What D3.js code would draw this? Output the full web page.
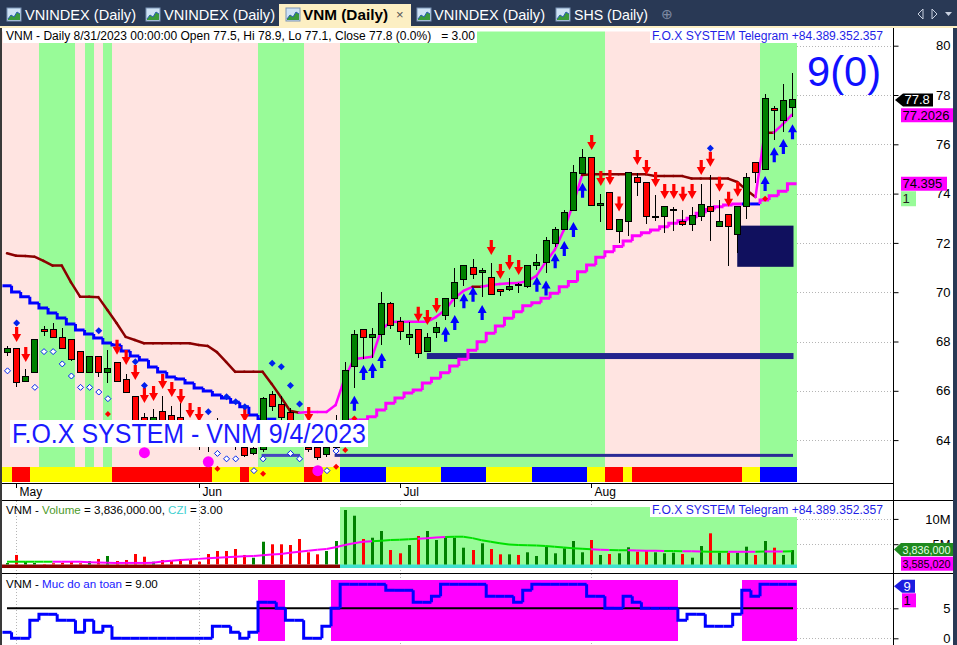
<!DOCTYPE html>
<html>
<head>
<meta charset="utf-8">
<script src="https://cdn.jsdelivr.net/npm/d3@7"></script>
<style>
body { margin: 0; background: #fff; overflow: hidden; }
text { font-family: "Liberation Sans", Arial, sans-serif; white-space: pre; }
</style>
</head>
<body>
<div id="chart"></div>
<script>
const W = 957, H = 645;

// ---- data ----
const dates = ("04-28 05-04 05-05 05-08 05-09 05-10 05-11 05-12 05-15 05-16 05-17 05-18 05-19 05-22 05-23 05-24 05-25 05-26 05-29 05-30 05-31 " +
  "06-01 06-02 06-05 06-06 06-07 06-08 06-09 06-12 06-13 06-14 06-15 06-16 06-19 06-20 06-21 06-22 06-23 06-26 06-27 06-28 06-29 06-30 " +
  "07-03 07-04 07-05 07-06 07-07 07-10 07-11 07-12 07-13 07-14 07-17 07-18 07-19 07-20 07-21 07-24 07-25 07-26 07-27 07-28 07-31 " +
  "08-01 08-02 08-03 08-04 08-07 08-08 08-09 08-10 08-11 08-14 08-15 08-16 08-17 08-18 08-21 08-22 08-23 08-24 08-25 08-28 08-29 08-30 08-31")
  .split(" ").map(d => "2023-" + d);

const open = [67.55,67.7,66.36,66.76,68.5,68.5,68.18,68.1,67.6,66.76, 67.41,66.76,67.13,66.44,65.76,64.9,64.5,65.15,65.0,64.9,
  64.5,64.2,64.1,64.1,64.2,64.2,63.72,63.44,63.6,65.87, 65.46,65.11,64.4,63.72,63.68,63.4,63.7,64.2,67.0,68.5,
  68.17,68.3,69.56,68.8,68.17,68.5,67.58,68.38,69.05,69.75, 70.5,71.0,70.78,70.6,70.1,70.12,70.33,70.24,71.1,71.2,
  71.97,72.56,73.32,74.8,75.47,73.5,74.05,72.45,72.86,74.66, 74.46,73.08,73.08,73.35,72.87,72.76,73.08,73.48,72.67,73.16,
  72.35,73.48,75.27,74.99,77.46,76.96,77.5];
const high = [67.8,67.7,66.9,68.1,68.63,68.75,68.55,68.1,67.6,67.41, 67.41,67.65,67.13,66.68,65.76,65.1,65.25,65.8,65.4,65.5,
  64.8,64.5,64.7,64.9,64.6,64.5,64.0,63.9,65.76,66.0, 65.8,65.3,64.6,64.2,63.9,64.0,65.0,67.18,68.47,68.5,
  68.55,70.0,69.6,69.0,68.8,68.5,68.33,68.8,69.75,70.97, 71.1,71.33,70.97,71.17,70.1,70.56,70.38,71.1,71.55,72.25,
  72.63,73.33,75.16,75.8,75.47,73.98,74.05,72.96,74.86,74.82, 74.46,73.94,73.48,73.47,73.33,73.47,74.4,74.75,73.74,73.16,
  73.48,74.82,75.27,78.04,77.55,78.45,78.9];
const low = [67.4,66.15,66.35,66.76,68.22,68.18,67.7,67.22,66.76,66.76, 66.57,66.32,66.36,65.95,64.3,64.2,64.3,64.4,64.5,64.1,
  63.8,63.6,63.5,63.7,63.8,63.6,63.3,63.4,63.5,65.2, 64.7,64.2,63.8,63.5,63.2,63.3,63.6,64.0,66.1,67.3,
  67.33,67.86,68.5,68.06,67.84,67.35,67.58,68.13,68.87,69.41, 70.26,70.54,69.8,69.89,69.86,70.06,69.95,70.16,70.9,70.77,
  71.85,72.56,73.32,74.8,73.5,72.86,72.55,72.0,72.29,73.9, 72.77,72.9,72.4,72.5,72.7,72.5,72.9,72.09,72.67,71.08,
  71.6,72.98,74.42,74.99,76.17,76.51,77.1];
const close = [67.7,66.35,66.56,68.1,68.4,68.18,67.7,67.29,66.76,67.41, 66.76,66.92,66.36,65.95,64.6,64.5,64.9,64.6,64.7,64.3,
  64.0,63.9,63.9,63.9,63.9,63.9,63.36,63.64,65.7,65.36, 64.92,64.4,64.0,63.6,63.31,63.68,64.2,66.84,68.3,68.17,
  68.3,69.56,68.63,68.39,68.3,67.52,68.17,68.58,69.75,70.4, 71.1,70.7,70.88,69.92,70.03,70.25,70.3,71.1,71.22,72.08,
  72.56,73.25,74.86,75.47,73.5,73.6,72.55,72.96,74.86,74.46, 73.08,73.08,73.48,73.36,72.76,73.1,73.57,73.27,72.88,72.67,
  73.48,74.66,74.85,77.87,77.36,77.78,77.8];

// volume in millions and its average
const volume = [1.28,2.87,1.54,1.28,1.09,1.23,1.34,1.54,1.23,1.68, 2.08,2.67,1.68,1.88,3.06,2.53,1.54,1.88,1.68,2.08,
  1.88,1.54,3.06,3.66,3.66,4.05,2.87,2.33,5.49,4.98, 4.98,4.84,6.03,3.40,3.00,3.66,5.63,11.76,10.63,6.03,
  6.28,7.61,3.85,3.20,4.84,6.62,7.61,5.83,6.28,6.28, 4.31,3.85,5.18,4.05,3.00,3.00,2.87,3.40,2.67,4.51,
  3.20,4.19,5.63,3.40,5.83,2.87,3.06,3.20,4.39,3.52, 3.85,3.40,3.20,3.32,3.06,2.33,4.64,7.15,3.32,3.32,
  3.32,4.51,2.87,5.63,4.31,2.87,3.836];
const volumeAvg = [1.54,1.54,1.54,1.54,1.54,1.54,1.54,1.54,1.54,1.45, 1.4,1.35,1.3,1.3,1.3,1.3,1.35,1.6,1.75,1.88,
  2.0,2.1,2.2,2.3,2.4,2.5,2.6,2.67,2.8,2.95, 3.06,3.3,3.52,3.7,3.9,4.05,4.4,4.84,5.2,5.49,
  5.6,5.7,5.83,5.9,6.0,6.1,6.17,6.3,6.4,6.48, 6.48,6.2,5.8,5.5,5.2,4.95,4.85,4.8,4.75,4.65,
  4.5,4.35,4.2,4.1,4.0,3.9,3.85,3.8,3.78,3.75, 3.72,3.7,3.67,3.65,3.62,3.6,3.55,3.52,3.5,3.5,
  3.5,3.5,3.5,3.55,3.57,3.58,3.585];
const volumeAvgState = "gggggg" + "mmmmmmmmmmmmmmmmmmmmmmmmmmmmmmmmmmm" + "ggggg" + "mmm" + "gggg" + "gggggggggggg" +
  "mm" + "gg" + "mmmm" + "gg" + "mm" + "ggg" + "mmm" + "g" + "mm" + "g" + "mm";

// "Muc do an toan" (safety level 0..10)
const safety = [1,0,0,3,4,4,3,3,1,3, 1,2,0,0,0,0,0,0,0,0, 0,0,0,2,2,1,0,1,6,6,
  5,3,3,0,0,2,5,9,9,9, 9,9,8,8,8,6,6,7,9,9, 9,9,9,7,7,7,6,8,9,9,
  9,9,9,9,7,7,5,5,7,6, 5,5,5,5,3,4,4,2,2,2, 4,8,7,9,9,9,9];
const safetyLimit = 5;

// trend line close to price (m = down / maroon, p = up / magenta)
const trendLine = [71.58,71.48,71.47,71.44,71.27,71.08,71.08,70.41,69.82,69.82, 69.80,69.28,68.75,68.19,68.06,67.93,67.93,67.93,67.93,67.93,
  67.93,67.86,67.82,67.57,67.17,66.77,66.77,66.77,66.77,66.28, 65.75,65.19,65.11,65.14,65.14,65.14,65.42,66.52,67.29,67.33,
  67.38,68.47,68.79,68.80,68.80,68.80,68.80,68.99,69.28,69.76, 70.05,70.22,70.22,70.29,70.33,70.36,70.37,70.45,70.66,71.22,
  71.71,72.52,73.54,74.75,74.78,74.78,74.78,74.78,74.78,74.78, 74.78,74.71,74.71,74.71,74.71,74.61,74.61,74.61,74.61,74.61,
  74.47,74.15,73.86,76.47,76.47,76.82,77.20];
const trendState = "mmmmmmmmmmmmmmmmmmmmmmmmmmmmmmmmm" + "ppppppppppppppppppp" + "m" + "ppppppppppp" +
  "mmmmmmmmmmmmmmmmmmm" + "p" + "m" + "pp";

// trailing stop (b = blue resistance, p = magenta support, - = none)
const stopLine = [70.26,70.01,69.82,69.56,69.36,69.16,68.95,68.71,68.47,68.30, 68.14,67.94,67.86,67.61,67.41,67.25,66.97,66.76,66.56,66.48,
  66.32,66.11,65.99,65.83,65.71,65.54,65.35,65.02,64.85,64.85, null,null,null,null,null,null,null,64.61,64.82,64.82,
  64.95,65.22,65.50,65.71,65.91,66.03,66.32,66.51,66.73,67.01, 67.28,67.65,67.99,68.33,68.63,68.94,69.21,69.45,69.57,69.75,
  69.96,70.22,70.43,70.83,71.10,71.42,71.64,71.85,72.08,72.29, 72.41,72.52,72.66,72.80,72.90,73.00,73.20,73.36,73.47,73.54,
  73.58,73.58,73.58,73.74,73.91,74.10,74.40];
const stopState = "bbbbbbbbbbbbbbbbbbbbbbbbbbbbbb" + "-------" + "pppppppppppppppppppppppppppppppppppppppppppp" + "bb" + "pppp";

// background state per bar (g = green, p = pink) and the bottom strip (R/Y/B)
const bandState = "pppp" + "gggg" + "pgpg" + "pppppppppppppppp" + "ggggg" + "pppp" +
  "ggggggggggggggggggggggggggggg" + "ppppppppppppppppp" + "gggg";
const stripState = "Y" + "RR" + "YYYYYYYYY" + "RRRRRRRRRRR" + "YYY" + "R" + "YYYYYY" + "RR" + "YY" + "BBBBB" + "YYYYYY" +
  "BBBBB" + "YYYYY" + "BBBBBB" + "YY" + "RR" + "Y" + "RRRRRRRRRRRR" + "YY" + "BBBB";
const cziState = "-------------------------------------" + "gggggggggggggggggggggggggggggggggggggggggggggggggg";

// signals: [bar, price]
const sellArrows = [[1,67.98],[2,67.17],[12,67.46],[13,67.05],[14,66.44],[15,65.51],[16,65.59],[17,66.07],[18,65.75],[19,65.46],
  [20,64.90],[21,64.73],[26,64.73],[33,64.73],[45,68.80],[46,68.67],[47,69.16],[53,71.51],[54,70.54],[55,70.90],[56,70.70],
  [64,75.77],[65,74.31],[66,74.35],[67,73.27],[69,75.16],[70,74.75],[71,74.27],[72,73.78],[73,73.78],[74,73.67],[75,73.78],
  [76,74.75],[77,75.09],[78,74.08],[79,73.47],[80,73.87]];
const buyArrows = [[38,65.80],[39,67.05],[40,67.13],[41,67.53],[48,68.60],[49,69.08],[50,69.96],[51,70.22],[52,69.48],
  [58,70.63],[59,70.47],[60,71.58],[61,72.08],[62,72.85],[63,74.44],[83,74.71],[84,75.88],[85,76.22],[86,76.81]];
const blueDots = [[1,68.75],[10,68.44],[14,67.18],[15,66.21],[22,65.15],[24,65.76],[25,65.56],[26,65.35],[29,67.12],
  [30,66.98],[31,66.21],[32,65.46],[77,75.84]];
const hollowDots = [[0,66.81],[3,66.14],[4,67.59],[5,67.59],[6,67.09],[7,66.60],[8,66.14],[9,66.14],[10,65.95],[11,65.68],
  [23,63.46],[24,63.24],[25,63.24],[27,62.76],[28,63.24],[31,63.46],[32,63.24],[35,62.76],[36,63.56]];
const redDots = [[11,65.06],[23,62.84],[28,62.63],[36,62.92],[37,63.60],[38,64.88],[83,73.79]];
const pinkDots = [[15,63.49],[22,63.12],[34,62.76]];

// horizontal levels: [fromBar, toBar, price]
const supportBand = [46, 86, 67.41];
const baseLines = [[28, 32, 63.38], [36, 86, 63.38]];
const zoneBox = [80, 86, 72.70, 71.03];

const priceTicks = [64, 66, 68, 70, 72, 74, 76, 78, 80];
const volumeTicks = [5, 10];
const safetyTicks = [0, 5];

// ---- scales ----
const n = dates.length;
const x = d3.scalePoint().domain(d3.range(n)).range([7, 792]);
const half = x.step() / 2;
const y = d3.scaleLinear().domain([64, 80]).range([440.1, 45.7]);
const yVol = d3.scaleLinear().domain([0, 10]).range([569.5, 518.9]);
const ySafe = d3.scaleLinear().domain([0, 10]).range([638.3, 578.3]);
const axisX = 893;

const svg = d3.select("#chart").append("svg")
    .attr("width", W)
    .attr("height", H);

svg.append("rect").attr("width", W).attr("height", H).attr("fill", "#fff");

// ---- tab bar ----
const tabBar = svg.append("g");
tabBar.append("rect").attr("width", W).attr("height", 28).attr("fill", "#293955");
tabBar.append("rect").attr("x", 0).attr("y", 26).attr("width", W).attr("height", 2).attr("fill", "#fcefc3");
tabBar.append("rect").attr("x", 279).attr("y", 4).attr("width", 132).attr("height", 24).attr("fill", "#fcefc3");

const tabs = [
  {label: "VNINDEX (Daily)", icon: 7, tx: 25, len: 111},
  {label: "VNINDEX (Daily)", icon: 146, tx: 164, len: 111},
  {label: "VNM (Daily)", icon: 286, tx: 303, len: 85, active: true},
  {label: "VNINDEX (Daily)", icon: 417, tx: 434, len: 111},
  {label: "SHS (Daily)", icon: 556, tx: 574, len: 74}
];
tabs.forEach(t => {
  const ic = tabBar.append("g").attr("transform", `translate(${t.icon},8)`);
  ic.append("rect").attr("width", 14).attr("height", 13).attr("fill", "#cfe3f5").attr("stroke", "#7a93b5");
  ic.append("path").attr("d", "M1,11 L4,7 L7,9 L10,4 L13,6 L13,12 L1,12Z").attr("fill", "#3a9a3a");
  ic.append("path").attr("d", "M1,11 L4,7 L7,9 L10,4 L13,6").attr("fill", "none").attr("stroke", "#2a5db0");
  tabBar.append("text")
      .attr("x", t.tx).attr("y", 20)
      .attr("font-size", 14.5)
      .attr("font-weight", t.active ? "bold" : "normal")
      .attr("fill", t.active ? "#000" : "#fff")
      .attr("textLength", t.len).attr("lengthAdjust", "spacingAndGlyphs")
      .text(t.label);
});
tabBar.append("text").attr("x", 396).attr("y", 19).attr("font-size", 13).attr("fill", "#555").text("\u00d7");
tabBar.append("text").attr("x", 661).attr("y", 19).attr("font-size", 14).attr("fill", "#7d8aa3").text("\u2295");
tabBar.append("path").attr("d", "M923,9 L918,14 L923,19Z").attr("fill", "none").attr("stroke", "#c9d1e0");
tabBar.append("path").attr("d", "M932,9 L937,14 L932,19Z").attr("fill", "none").attr("stroke", "#c9d1e0");
tabBar.append("path").attr("d", "M945,12 L952,12 L948.5,16Z").attr("fill", "#c9d1e0");

// ---- main price panel ----
const main = svg.append("g");

// grid lines visible in the blank area right of the bars
priceTicks.forEach(p => {
  main.append("line")
      .attr("x1", 797).attr("x2", axisX).attr("y1", Math.round(y(p)) + 0.5).attr("y2", Math.round(y(p)) + 0.5)
      .attr("stroke", "#b5b5b5").attr("stroke-dasharray", "1,2");
});

const bandColor = {g: "#98fb98", p: "#ffe4e1"};
d3.range(n).forEach(i => {
  const x0 = Math.round(x(i) - half), x1 = Math.round(x(i) + half);
  main.append("rect").attr("x", x0).attr("y", 31.5).attr("width", x1 - x0).attr("height", 467 - 31.5)
      .attr("fill", bandColor[bandState[i]]);
});

const stripColor = {R: "#ff0000", Y: "#ffff00", B: "#0000ff"};
d3.range(n).forEach(i => {
  const x0 = Math.round(x(i) - half), x1 = Math.round(x(i) + half);
  main.append("rect").attr("x", x0).attr("y", 467).attr("width", x1 - x0).attr("height", 15)
      .attr("fill", stripColor[stripState[i]]);
});

// horizontal levels
main.append("rect")
    .attr("x", x(supportBand[0])).attr("width", x(supportBand[1]) + 1.5 - x(supportBand[0]))
    .attr("y", y(supportBand[2]) - 3).attr("height", 6)
    .attr("fill", "#23238e");
baseLines.forEach((b, k) => {
  main.append("rect")
      .attr("x", x(b[0]) - 1).attr("width", x(b[1]) + 2 - x(b[0]))
      .attr("y", y(b[2]) - 1.5).attr("height", 3)
      .attr("fill", k === 0 ? "#4646c0" : "#2b2b95");
});
main.append("rect")
    .attr("x", x(zoneBox[0])).attr("width", x(zoneBox[1]) + 1.5 - x(zoneBox[0]))
    .attr("y", y(zoneBox[2])).attr("height", y(zoneBox[3]) - y(zoneBox[2]))
    .attr("fill", "#10105e");

// trailing stop as a step line
const stopColor = {b: "#0000ff", p: "#ff00ff"};
stopLine.forEach((v, i) => {
  if (v == null) return;
  const prev = i > 0 ? stopLine[i - 1] : null;
  const xa = x(i) - half, xb = x(i) + half;
  const d = prev != null
    ? `M${xa},${y(prev)}V${y(v)}H${xb}`
    : `M${xa},${y(v)}H${xb}`;
  main.append("path").attr("d", d).attr("fill", "none")
      .attr("stroke", stopColor[stopState[i]]).attr("stroke-width", 3);
});

// trend line
const trendColor = {m: "#8b0000", p: "#ff00ff"};
trendLine.forEach((v, i) => {
  if (i === 0) return;
  main.append("line")
      .attr("x1", x(i - 1)).attr("y1", y(trendLine[i - 1]))
      .attr("x2", x(i)).attr("y2", y(v))
      .attr("stroke", trendColor[trendState[i]]).attr("stroke-width", 2.5)
      .attr("stroke-linecap", "round");
});

// candles
const candles = main.append("g").attr("shape-rendering", "crispEdges");
d3.range(n).forEach(i => {
  const cx = Math.round(x(i));
  candles.append("line")
      .attr("x1", cx + 0.5).attr("x2", cx + 0.5)
      .attr("y1", y(high[i])).attr("y2", y(low[i]))
      .attr("stroke", "#000");
  const top = y(Math.max(open[i], close[i])), bot = y(Math.min(open[i], close[i]));
  candles.append("rect")
      .attr("x", cx - 2.5).attr("y", top)
      .attr("width", 6).attr("height", Math.max(1, bot - top))
      .attr("fill", close[i] >= open[i] ? "#008000" : "#ff0000")
      .attr("stroke", "#000");
});

// signals
const sig = main.append("g");
sellArrows.forEach(([i, p]) => {
  sig.append("path")
      .attr("transform", `translate(${x(i) + 0.5},${y(p)})`)
      .attr("d", "M0,0 L-4.5,-8 L-1.6,-8 L-1.6,-15 L1.6,-15 L1.6,-8 L4.5,-8Z")
      .attr("fill", "#ff0000");
});
buyArrows.forEach(([i, p]) => {
  sig.append("path")
      .attr("transform", `translate(${x(i) + 0.5},${y(p)})`)
      .attr("d", "M0,0 L-4.5,8 L-1.6,8 L-1.6,15 L1.6,15 L1.6,8 L4.5,8Z")
      .attr("fill", "#0000ff");
});
blueDots.forEach(([i, p]) => {
  sig.append("path").attr("transform", `translate(${x(i) + 0.5},${y(p)})`)
      .attr("d", "M0,-3.5 L3.5,0 L0,3.5 L-3.5,0Z").attr("fill", "#0022ee");
});
hollowDots.forEach(([i, p]) => {
  sig.append("path").attr("transform", `translate(${x(i) + 0.5},${y(p)})`)
      .attr("d", "M0,-3 L3,0 L0,3 L-3,0Z").attr("fill", "#fff").attr("stroke", "#0022ee");
});
redDots.forEach(([i, p]) => {
  sig.append("path").attr("transform", `translate(${x(i) + 0.5},${y(p)})`)
      .attr("d", "M0,-3 L3,0 L0,3 L-3,0Z").attr("fill", "#ff0000");
});
pinkDots.forEach(([i, p]) => {
  sig.append("circle").attr("cx", x(i) + 0.5).attr("cy", y(p)).attr("r", 5.5).attr("fill", "#ff00ff");
});

// x axis with month ticks
main.append("line").attr("x1", 2).attr("x2", axisX).attr("y1", 483.5).attr("y2", 483.5).attr("stroke", "#000");
const monthStarts = d3.range(1, n).filter(i => dates[i].slice(5, 7) !== dates[i - 1].slice(5, 7));
const monthFmt = d3.timeFormat("%b");
monthStarts.forEach(i => {
  const mx = Math.round(x(i)) + 0.5;
  main.append("line").attr("x1", mx).attr("x2", mx).attr("y1", 483).attr("y2", 488).attr("stroke", "#000");
  main.append("text").attr("x", mx + 3).attr("y", 496).attr("font-size", 12).attr("fill", "#000")
      .text(monthFmt(d3.timeParse("%Y-%m-%d")(dates[i])));
});

// header texts
main.append("rect").attr("x", 3).attr("y", 29).attr("width", 474).attr("height", 14).attr("fill", "#fff");
main.append("text").attr("x", 6).attr("y", 39.5).attr("font-size", 12.5).attr("fill", "#000")
    .attr("textLength", 469).attr("lengthAdjust", "spacingAndGlyphs")
    .text("VNM - Daily 8/31/2023 00:00:00 Open 77.5, Hi 78.9, Lo 77.1, Close 77.8 (0.0%)   = 3.00");
main.append("rect").attr("x", 650).attr("y", 29).attr("width", 235).attr("height", 14).attr("fill", "#fff");
main.append("text").attr("x", 652).attr("y", 39.5).attr("font-size", 12.5).attr("fill", "#1f1fe6")
    .attr("textLength", 231).attr("lengthAdjust", "spacingAndGlyphs")
    .text("F.O.X SYSTEM Telegram +84.389.352.357");

main.append("text").attr("x", 807).attr("y", 86).attr("font-size", 43).attr("fill", "#1010ff")
    .attr("textLength", 74).attr("lengthAdjust", "spacingAndGlyphs")
    .text("9(0)");

main.append("rect").attr("x", 10).attr("y", 420).attr("width", 358).attr("height", 27).attr("fill", "#fff");
main.append("text").attr("x", 12).attr("y", 443).attr("font-size", 27).attr("fill", "#1a1aff")
    .attr("textLength", 354).attr("lengthAdjust", "spacingAndGlyphs")
    .text("F.O.X SYSTEM - VNM 9/4/2023");

// price axis
const yAxis = d3.axisRight(y).tickValues(priceTicks).tickSize(5).tickFormat(d3.format("d"));
const ya = svg.append("g").attr("transform", `translate(${axisX + 0.5},0)`).call(yAxis);
ya.select(".domain").remove();
ya.selectAll("text").attr("x", 57).attr("text-anchor", "end").attr("font-size", 13).attr("fill", "#000")
    .style("font-family", "'Liberation Sans', Arial, sans-serif");

// value tags
function tag(g, x0, x1, yc, h, fill, color, label, arrowTip, fontSize) {
  const t = yc - h / 2, b = yc + h / 2;
  const d = arrowTip != null
    ? `M${arrowTip},${yc} L${x0},${t} H${x1} V${b} H${x0}Z`
    : `M${x0},${t} H${x1} V${b} H${x0}Z`;
  g.append("path").attr("d", d).attr("fill", fill);
  g.append("text").attr("x", x0 + 1.5).attr("y", yc + 4.5).attr("font-size", fontSize || 13).attr("fill", color).text(label);
}
const tags = svg.append("g");

// ---- volume panel ----
const vol = svg.append("g");
vol.append("line").attr("x1", 2).attr("x2", 957).attr("y1", 500.5).attr("y2", 500.5).attr("stroke", "#000");
monthStarts.forEach(i => {
  vol.append("line").attr("x1", Math.round(x(i)) + 0.5).attr("x2", Math.round(x(i)) + 0.5)
      .attr("y1", 501).attr("y2", 573).attr("stroke", "#b5b5b5").attr("stroke-dasharray", "1,2");
});
volumeTicks.forEach(v => {
  vol.append("line").attr("x1", 797).attr("x2", axisX).attr("y1", Math.round(yVol(v)) + 0.5).attr("y2", Math.round(yVol(v)) + 0.5)
      .attr("stroke", "#b5b5b5").attr("stroke-dasharray", "1,2");
});
d3.range(n).forEach(i => {
  const x0 = Math.round(x(i) - half), x1 = Math.round(x(i) + half);
  if (cziState[i] === "g") {
    vol.append("rect").attr("x", x0).attr("y", 507).attr("width", x1 - x0).attr("height", 58).attr("fill", "#98fb98");
  }
  vol.append("rect").attr("x", x0).attr("y", 564.5).attr("width", x1 - x0).attr("height", 3.5)
      .attr("fill", cziState[i] === "g" ? "#40e0d0" : "#8b0000");
});
d3.range(n).forEach(i => {
  const cx = Math.round(x(i));
  vol.append("rect").attr("x", cx - 1).attr("y", yVol(volume[i])).attr("width", 3)
      .attr("height", 564.5 - yVol(volume[i]))
      .attr("fill", close[i] >= open[i] ? "#008000" : "#ff0000");
});
const avgColor = {g: "#00e000", m: "#ff00ff"};
volumeAvg.forEach((v, i) => {
  if (i === 0) return;
  vol.append("line").attr("x1", x(i - 1)).attr("y1", yVol(volumeAvg[i - 1])).attr("x2", x(i)).attr("y2", yVol(v))
      .attr("stroke", avgColor[volumeAvgState[i]]).attr("stroke-width", 2);
});
vol.append("text").attr("x", 6).attr("y", 513.5).attr("font-size", 11.6)
    .call(t => {
      t.append("tspan").attr("fill", "#000").text("VNM - ");
      t.append("tspan").attr("fill", "#4c9a2a").text("Volume");
      t.append("tspan").attr("fill", "#000").text(" = 3,836,000.00, ");
      t.append("tspan").attr("fill", "#40d0d0").text("CZI");
      t.append("tspan").attr("fill", "#000").text(" = 3.00");
    });
vol.append("rect").attr("x", 650).attr("y", 503).attr("width", 235).attr("height", 14).attr("fill", "#fff");
vol.append("text").attr("x", 652).attr("y", 513.5).attr("font-size", 12.5).attr("fill", "#1f1fe6")
    .attr("textLength", 231).attr("lengthAdjust", "spacingAndGlyphs")
    .text("F.O.X SYSTEM Telegram +84.389.352.357");
const volAxis = d3.axisRight(yVol).tickValues(volumeTicks).tickSize(5).tickFormat(d => d + "M");
const va = svg.append("g").attr("transform", `translate(${axisX + 0.5},0)`).call(volAxis);
va.select(".domain").remove();
va.selectAll("text").attr("x", 57).attr("text-anchor", "end").attr("font-size", 13).attr("fill", "#000")
    .style("font-family", "'Liberation Sans', Arial, sans-serif");

// ---- safety panel ----
const safe = svg.append("g");
safe.append("line").attr("x1", 2).attr("x2", 957).attr("y1", 573.5).attr("y2", 573.5).attr("stroke", "#000");
monthStarts.forEach(i => {
  safe.append("line").attr("x1", Math.round(x(i)) + 0.5).attr("x2", Math.round(x(i)) + 0.5)
      .attr("y1", 574).attr("y2", 645).attr("stroke", "#b5b5b5").attr("stroke-dasharray", "1,2");
});
safetyTicks.forEach(v => {
  safe.append("line").attr("x1", 797).attr("x2", axisX).attr("y1", Math.round(ySafe(v)) + 0.5).attr("y2", Math.round(ySafe(v)) + 0.5)
      .attr("stroke", "#b5b5b5").attr("stroke-dasharray", "1,2");
});
d3.range(n).forEach(i => {
  if (safety[i] < safetyLimit) return;
  const x0 = Math.round(x(i) - half), x1 = Math.round(x(i) + half);
  safe.append("rect").attr("x", x0).attr("y", 580).attr("width", x1 - x0).attr("height", 61).attr("fill", "#ff00ff");
});
safe.append("line").attr("x1", 7).attr("x2", 793).attr("y1", ySafe(safetyLimit)).attr("y2", ySafe(safetyLimit))
    .attr("stroke", "#000").attr("stroke-width", 2);
safety.forEach((v, i) => {
  const xa = x(i) - half, xb = x(i) + half;
  const d = i > 0 ? `M${xa},${ySafe(safety[i - 1])}V${ySafe(v)}H${xb}` : `M${xa},${ySafe(v)}H${xb}`;
  safe.append("path").attr("d", d).attr("fill", "none").attr("stroke", "#0000ff").attr("stroke-width", 3);
});
safe.append("text").attr("x", 6).attr("y", 587.5).attr("font-size", 11.6)
    .call(t => {
      t.append("tspan").attr("fill", "#000").text("VNM - ");
      t.append("tspan").attr("fill", "#2020ff").text("Muc do an toan");
      t.append("tspan").attr("fill", "#000").text(" = 9.00");
    });
const safeAxis = d3.axisRight(ySafe).tickValues(safetyTicks).tickSize(5);
const sa = svg.append("g").attr("transform", `translate(${axisX + 0.5},0)`).call(safeAxis);
sa.select(".domain").remove();
sa.selectAll("text").attr("x", 57).attr("text-anchor", "end").attr("font-size", 13).attr("fill", "#000")
    .style("font-family", "'Liberation Sans', Arial, sans-serif");

// frame
svg.append("line").attr("x1", axisX + 0.5).attr("x2", axisX + 0.5).attr("y1", 28).attr("y2", H).attr("stroke", "#000");
svg.append("rect").attr("x", 0).attr("y", 28).attr("width", 2).attr("height", H - 28).attr("fill", "#3a3a3a");
svg.append("rect").attr("x", 953).attr("y", 28).attr("width", 4).attr("height", H - 28).attr("fill", "#293955");

// tags last so they sit on top of the axis labels
svg.node().appendChild(tags.node());
tag(tags, 903, 933, y(close[n - 1]), 13, "#000", "#fff", d3.format(".1f")(close[n - 1]), 895);
tag(tags, 901, 953, y(trendLine[n - 1]) + 0.5, 14, "#ff00ff", "#000", "77.2026", null);
tag(tags, 901, 947, y(stopLine[n - 1]), 14, "#ff00ff", "#000", "74.395", null);
tag(tags, 901, 916, y(stopLine[n - 1]) + 15, 15, "#98fb98", "#222", "1", null);
tag(tags, 901, 953, yVol(volume[n - 1]) - 0.5, 13, "#1f8a1f", "#e8ffe8", "3,836,000", 894, 10.8);
tag(tags, 901, 953, yVol(volumeAvg[n - 1]) + 12.5, 14, "#ff00ff", "#000", "3,585,020", null, 10.8);
tag(tags, 902, 915, ySafe(safety[n - 1]) + 2, 13, "#1c1ce0", "#fff", "9", 894);
tag(tags, 902, 916, ySafe(safety[n - 1]) + 16, 14, "#ff00ff", "#000", "1", null);
</script>
</body>
</html>
